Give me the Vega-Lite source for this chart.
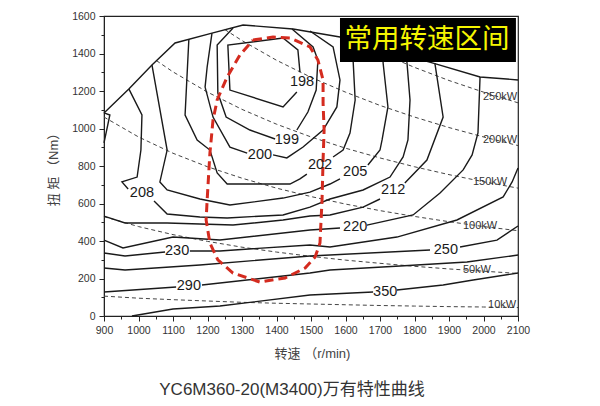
{
"$schema":"https://vega.github.io/schema/vega-lite/v6.json",
"width":414,"height":300,
"autosize":{"type":"none"},
"padding":{"left":104,"top":16,"right":82,"bottom":90},
"background":"white",
"config":{"view":{"stroke":"#222","strokeWidth":1.2},"axis":{"domainColor":"#222","tickColor":"#222","labelColor":"#333","labelFont":"Liberation Sans","labelFontSize":10.5,"grid":false,"labelFlush":false,"labelOverlap":false,"format":"d"}},
"title":{"text":"YC6M360-20(M3400)万有特性曲线","orient":"bottom","anchor":"middle","frame":"group","dx":-19,"offset":22,"font":"Liberation Sans, Noto Sans CJK SC","fontSize":17,"fontWeight":"normal","color":"#333"},
"datasets":{
"contours":[
{"s":"B","i":0,"rpm":900,"nm":1083},{"s":"B","i":1,"rpm":972,"nm":1211},{"s":"B","i":2,"rpm":1039,"nm":1339},{"s":"B","i":3,"rpm":1106,"nm":1456},{"s":"B","i":4,"rpm":1213,"nm":1509},{"s":"B","i":5,"rpm":1303,"nm":1552},{"s":"B","i":6,"rpm":1448,"nm":1531},{"s":"B","i":7,"rpm":1584,"nm":1488},{"s":"B","i":8,"rpm":1854,"nm":1349},{"s":"B","i":9,"rpm":1990,"nm":1275},{"s":"B","i":10,"rpm":2100,"nm":1259},
{"s":"198a","i":0,"rpm":1459,"nm":1195},{"s":"198a","i":1,"rpm":1419,"nm":1115},{"s":"198a","i":2,"rpm":1265,"nm":1205},{"s":"198a","i":3,"rpm":1259,"nm":1445},{"s":"198a","i":4,"rpm":1419,"nm":1483},{"s":"198a","i":5,"rpm":1462,"nm":1419},{"s":"198a","i":6,"rpm":1468,"nm":1301},
{"s":"199a","i":0,"rpm":1274,"nm":1536},{"s":"199a","i":1,"rpm":1228,"nm":1445},{"s":"199a","i":2,"rpm":1230,"nm":1189},{"s":"199a","i":3,"rpm":1254,"nm":1061},{"s":"199a","i":4,"rpm":1323,"nm":992},{"s":"199a","i":5,"rpm":1396,"nm":944},
{"s":"199b","i":0,"rpm":1459,"nm":992},{"s":"199b","i":1,"rpm":1491,"nm":1088},{"s":"199b","i":2,"rpm":1515,"nm":1205},{"s":"199b","i":3,"rpm":1520,"nm":1365},{"s":"199b","i":4,"rpm":1506,"nm":1435},{"s":"199b","i":5,"rpm":1445,"nm":1531},
{"s":"200a","i":0,"rpm":1213,"nm":1509},{"s":"200a","i":1,"rpm":1199,"nm":1328},{"s":"200a","i":2,"rpm":1193,"nm":1221},{"s":"200a","i":3,"rpm":1216,"nm":1061},{"s":"200a","i":4,"rpm":1265,"nm":901},{"s":"200a","i":5,"rpm":1315,"nm":869},
{"s":"200b","i":0,"rpm":1390,"nm":859},{"s":"200b","i":1,"rpm":1430,"nm":843},{"s":"200b","i":2,"rpm":1477,"nm":901},{"s":"200b","i":3,"rpm":1535,"nm":992},{"s":"200b","i":4,"rpm":1575,"nm":1115},{"s":"200b","i":5,"rpm":1584,"nm":1259},{"s":"200b","i":6,"rpm":1564,"nm":1435},{"s":"200b","i":7,"rpm":1497,"nm":1520},
{"s":"202a","i":0,"rpm":1146,"nm":1477},{"s":"202a","i":1,"rpm":1135,"nm":1072},{"s":"202a","i":2,"rpm":1170,"nm":939},{"s":"202a","i":3,"rpm":1207,"nm":885},{"s":"202a","i":4,"rpm":1228,"nm":763},{"s":"202a","i":5,"rpm":1257,"nm":704},{"s":"202a","i":6,"rpm":1439,"nm":704},{"s":"202a","i":7,"rpm":1468,"nm":731},{"s":"202a","i":8,"rpm":1488,"nm":757},
{"s":"202b","i":0,"rpm":1564,"nm":848},{"s":"202b","i":1,"rpm":1593,"nm":885},{"s":"202b","i":2,"rpm":1613,"nm":976},{"s":"202b","i":3,"rpm":1628,"nm":1152},{"s":"202b","i":4,"rpm":1622,"nm":1365},{"s":"202b","i":5,"rpm":1622,"nm":1467},
{"s":"205a","i":0,"rpm":1039,"nm":1339},{"s":"205a","i":1,"rpm":1083,"nm":885},{"s":"205a","i":2,"rpm":1062,"nm":715},{"s":"205a","i":3,"rpm":1083,"nm":672},{"s":"205a","i":4,"rpm":1178,"nm":624},{"s":"205a","i":5,"rpm":1265,"nm":592},{"s":"205a","i":6,"rpm":1419,"nm":629},{"s":"205a","i":7,"rpm":1497,"nm":661},{"s":"205a","i":8,"rpm":1555,"nm":704},{"s":"205a","i":9,"rpm":1584,"nm":731},
{"s":"205b","i":0,"rpm":1665,"nm":805},{"s":"205b","i":1,"rpm":1700,"nm":885},{"s":"205b","i":2,"rpm":1706,"nm":939},{"s":"205b","i":3,"rpm":1723,"nm":1115},{"s":"205b","i":4,"rpm":1709,"nm":1349},{"s":"205b","i":5,"rpm":1709,"nm":1424},
{"s":"208a","i":0,"rpm":972,"nm":1211},{"s":"208a","i":1,"rpm":1010,"nm":1072},{"s":"208a","i":2,"rpm":1007,"nm":885},{"s":"208a","i":3,"rpm":996,"nm":741},{"s":"208a","i":4,"rpm":952,"nm":715},{"s":"208a","i":5,"rpm":970,"nm":677},
{"s":"208b","i":0,"rpm":1045,"nm":613},{"s":"208b","i":1,"rpm":1083,"nm":544},{"s":"208b","i":2,"rpm":1178,"nm":528},{"s":"208b","i":3,"rpm":1257,"nm":523},{"s":"208b","i":4,"rpm":1419,"nm":539},{"s":"208b","i":5,"rpm":1497,"nm":581},{"s":"208b","i":6,"rpm":1555,"nm":624},{"s":"208b","i":7,"rpm":1651,"nm":672},{"s":"208b","i":8,"rpm":1729,"nm":741},{"s":"208b","i":9,"rpm":1767,"nm":848},{"s":"208b","i":10,"rpm":1781,"nm":939},{"s":"208b","i":11,"rpm":1787,"nm":1152},{"s":"208b","i":12,"rpm":1778,"nm":1355},{"s":"208b","i":13,"rpm":1775,"nm":1387},
{"s":"212a","i":0,"rpm":900,"nm":533},{"s":"212a","i":1,"rpm":961,"nm":496},{"s":"212a","i":2,"rpm":1083,"nm":496},{"s":"212a","i":3,"rpm":1178,"nm":491},{"s":"212a","i":4,"rpm":1274,"nm":485},{"s":"212a","i":5,"rpm":1419,"nm":512},{"s":"212a","i":6,"rpm":1497,"nm":533},{"s":"212a","i":7,"rpm":1555,"nm":539},{"s":"212a","i":8,"rpm":1651,"nm":581},{"s":"212a","i":9,"rpm":1700,"nm":624},
{"s":"212b","i":0,"rpm":1772,"nm":709},{"s":"212b","i":1,"rpm":1836,"nm":832},{"s":"212b","i":2,"rpm":1883,"nm":1061},{"s":"212b","i":3,"rpm":1859,"nm":1349},
{"s":"212c","i":0,"rpm":900,"nm":1083},{"s":"212c","i":1,"rpm":917,"nm":1072},{"s":"212c","i":2,"rpm":900,"nm":923},
{"s":"220a","i":0,"rpm":900,"nm":405},{"s":"220a","i":1,"rpm":955,"nm":363},{"s":"220a","i":2,"rpm":1100,"nm":421},{"s":"220a","i":3,"rpm":1236,"nm":405},{"s":"220a","i":4,"rpm":1497,"nm":459},{"s":"220a","i":5,"rpm":1584,"nm":469},
{"s":"220b","i":0,"rpm":1662,"nm":485},{"s":"220b","i":1,"rpm":1796,"nm":539},{"s":"220b","i":2,"rpm":1874,"nm":656},{"s":"220b","i":3,"rpm":1941,"nm":779},{"s":"220b","i":4,"rpm":1967,"nm":859},{"s":"220b","i":5,"rpm":1984,"nm":976},{"s":"220b","i":6,"rpm":1990,"nm":1275},
{"s":"230a","i":0,"rpm":900,"nm":336},{"s":"230a","i":1,"rpm":961,"nm":320},{"s":"230a","i":2,"rpm":1077,"nm":341},
{"s":"230b","i":0,"rpm":1149,"nm":347},{"s":"230b","i":1,"rpm":1236,"nm":347},{"s":"230b","i":2,"rpm":1497,"nm":379},{"s":"230b","i":3,"rpm":1555,"nm":368},{"s":"230b","i":4,"rpm":1749,"nm":421},{"s":"230b","i":5,"rpm":1923,"nm":512},{"s":"230b","i":6,"rpm":2057,"nm":635},{"s":"230b","i":7,"rpm":2083,"nm":715},{"s":"230b","i":8,"rpm":2100,"nm":789},
{"s":"250a","i":0,"rpm":900,"nm":256},{"s":"250a","i":1,"rpm":961,"nm":245},{"s":"250a","i":2,"rpm":1178,"nm":272},{"s":"250a","i":3,"rpm":1497,"nm":320},{"s":"250a","i":4,"rpm":1845,"nm":352},
{"s":"250b","i":0,"rpm":1932,"nm":368},{"s":"250b","i":1,"rpm":2039,"nm":405},{"s":"250b","i":2,"rpm":2100,"nm":480},
{"s":"290a","i":0,"rpm":900,"nm":128},{"s":"290a","i":1,"rpm":1109,"nm":155},
{"s":"290b","i":0,"rpm":1184,"nm":165},{"s":"290b","i":1,"rpm":1497,"nm":229},{"s":"290b","i":2,"rpm":1555,"nm":245},{"s":"290b","i":3,"rpm":1758,"nm":267},{"s":"290b","i":4,"rpm":1952,"nm":288},{"s":"290b","i":5,"rpm":2100,"nm":325},
{"s":"350a","i":0,"rpm":981,"nm":0},{"s":"350a","i":1,"rpm":1100,"nm":37},{"s":"350a","i":2,"rpm":1236,"nm":53},{"s":"350a","i":3,"rpm":1497,"nm":112},{"s":"350a","i":4,"rpm":1680,"nm":128},
{"s":"350b","i":0,"rpm":1749,"nm":139},{"s":"350b","i":1,"rpm":1883,"nm":165},{"s":"350b","i":2,"rpm":1970,"nm":192},{"s":"350b","i":3,"rpm":2100,"nm":229}
],
"power":[
{"p":10,"rpm":900,"nm":106},{"p":10,"rpm":1000,"nm":95},{"p":10,"rpm":1100,"nm":87},{"p":10,"rpm":1200,"nm":80},{"p":10,"rpm":1300,"nm":73},{"p":10,"rpm":1400,"nm":68},{"p":10,"rpm":1500,"nm":64},{"p":10,"rpm":1600,"nm":60},{"p":10,"rpm":1700,"nm":56},{"p":10,"rpm":1800,"nm":53},{"p":10,"rpm":1900,"nm":50},{"p":10,"rpm":2000,"nm":48},{"p":10,"rpm":2100,"nm":45},
{"p":50,"rpm":900,"nm":530},{"p":50,"rpm":1000,"nm":477},{"p":50,"rpm":1100,"nm":434},{"p":50,"rpm":1200,"nm":398},{"p":50,"rpm":1300,"nm":367},{"p":50,"rpm":1400,"nm":341},{"p":50,"rpm":1500,"nm":318},{"p":50,"rpm":1600,"nm":298},{"p":50,"rpm":1700,"nm":281},{"p":50,"rpm":1800,"nm":265},{"p":50,"rpm":1900,"nm":251},{"p":50,"rpm":2000,"nm":239},{"p":50,"rpm":2100,"nm":227},
{"p":100,"rpm":900,"nm":1061},{"p":100,"rpm":1000,"nm":955},{"p":100,"rpm":1100,"nm":868},{"p":100,"rpm":1200,"nm":796},{"p":100,"rpm":1300,"nm":735},{"p":100,"rpm":1400,"nm":682},{"p":100,"rpm":1500,"nm":637},{"p":100,"rpm":1600,"nm":597},{"p":100,"rpm":1700,"nm":562},{"p":100,"rpm":1800,"nm":531},{"p":100,"rpm":1900,"nm":503},{"p":100,"rpm":2000,"nm":477},{"p":100,"rpm":2100,"nm":455},
{"p":150,"rpm":1052,"nm":1362},{"p":150,"rpm":1100,"nm":1302},{"p":150,"rpm":1200,"nm":1194},{"p":150,"rpm":1300,"nm":1102},{"p":150,"rpm":1400,"nm":1023},{"p":150,"rpm":1500,"nm":955},{"p":150,"rpm":1600,"nm":895},{"p":150,"rpm":1700,"nm":843},{"p":150,"rpm":1800,"nm":796},{"p":150,"rpm":1900,"nm":754},{"p":150,"rpm":2000,"nm":716},{"p":150,"rpm":2100,"nm":682},
{"p":200,"rpm":1250,"nm":1528},{"p":200,"rpm":1300,"nm":1469},{"p":200,"rpm":1400,"nm":1364},{"p":200,"rpm":1500,"nm":1273},{"p":200,"rpm":1600,"nm":1194},{"p":200,"rpm":1700,"nm":1123},{"p":200,"rpm":1800,"nm":1061},{"p":200,"rpm":1900,"nm":1005},{"p":200,"rpm":2000,"nm":955},{"p":200,"rpm":2100,"nm":909},
{"p":250,"rpm":1635,"nm":1460},{"p":250,"rpm":1700,"nm":1404},{"p":250,"rpm":1800,"nm":1326},{"p":250,"rpm":1900,"nm":1256},{"p":250,"rpm":2000,"nm":1194},{"p":250,"rpm":2100,"nm":1137}
],
"zone":[
{"i":0,"rpm":1332,"nm":1472},{"i":1,"rpm":1390,"nm":1488},{"i":2,"rpm":1439,"nm":1483},{"i":3,"rpm":1497,"nm":1435},{"i":4,"rpm":1520,"nm":1365},{"i":5,"rpm":1535,"nm":1259},{"i":6,"rpm":1535,"nm":1136},{"i":7,"rpm":1538,"nm":992},{"i":8,"rpm":1535,"nm":832},{"i":9,"rpm":1532,"nm":619},{"i":10,"rpm":1526,"nm":389},{"i":11,"rpm":1512,"nm":315},{"i":12,"rpm":1483,"nm":256},{"i":13,"rpm":1425,"nm":203},{"i":14,"rpm":1352,"nm":181},{"i":15,"rpm":1274,"nm":229},{"i":16,"rpm":1230,"nm":299},{"i":17,"rpm":1207,"nm":389},{"i":18,"rpm":1196,"nm":512},{"i":19,"rpm":1199,"nm":619},{"i":20,"rpm":1207,"nm":869},{"i":21,"rpm":1216,"nm":1045},{"i":22,"rpm":1228,"nm":1152},{"i":23,"rpm":1257,"nm":1275},{"i":24,"rpm":1294,"nm":1392},{"i":25,"rpm":1332,"nm":1472}
],
"labels":[
{"t":"198","rpm":1474,"nm":1248},{"t":"199","rpm":1430,"nm":939},{"t":"200","rpm":1352,"nm":859},{"t":"202","rpm":1526,"nm":805},{"t":"205","rpm":1628,"nm":768},{"t":"208","rpm":1010,"nm":656},{"t":"212","rpm":1738,"nm":672},{"t":"220","rpm":1628,"nm":475},{"t":"230","rpm":1112,"nm":347},{"t":"250","rpm":1891,"nm":352},{"t":"290","rpm":1146,"nm":160},{"t":"350","rpm":1715,"nm":128}
],
"plabels":[
{"t":"250kW","rpm":2048,"nm":1168},{"t":"200kW","rpm":2048,"nm":939},{"t":"150kW","rpm":2019,"nm":715},{"t":"100kW","rpm":1990,"nm":480},{"t":"50kW","rpm":1981,"nm":245},{"t":"10kW","rpm":2054,"nm":59}
],
"box":[{"t":"常用转速区间","x1":1584,"x2":2094,"y1":1355,"y2":1589,"tx":1836,"ty":1472}]
},
"layer":[
{"data":{"name":"power"},"mark":{"type":"line","strokeDash":[4,3],"color":"#444","strokeWidth":1},
 "encoding":{
  "x":{"field":"rpm","type":"quantitative","scale":{"domain":[900,2100],"nice":false,"zero":false},"axis":{"orient":"bottom","values":[950,1050,1150,1250,1350,1450,1550,1650,1750,1850,1950,2050],"labels":false,"domain":false,"tickSize":3,"title":null}},
  "y":{"field":"nm","type":"quantitative","scale":{"domain":[0,1600],"nice":false,"zero":false},"axis":{"orient":"left","values":[100,300,500,700,900,1100,1300,1500],"labels":false,"domain":false,"tickSize":3,"title":null}},
  "detail":{"field":"p","type":"nominal"},
  "order":{"field":"rpm","type":"quantitative"}}},
{"data":{"name":"contours"},"mark":{"type":"line","color":"#1a1a1a","strokeWidth":1.4},
 "encoding":{
  "x":{"field":"rpm","type":"quantitative","axis":{"orient":"bottom","values":[900,1000,1100,1200,1300,1400,1500,1600,1700,1800,1900,2000,2100],"tickSize":5,"labelPadding":4,"title":"转速 （r/min)","titleFont":"Liberation Sans, Noto Sans CJK SC","titleFontSize":13,"titleFontWeight":"normal","titleColor":"#444","titleX":208,"titleY":37,"titleAlign":"center","titleBaseline":"middle"}},
  "y":{"field":"nm","type":"quantitative","axis":{"orient":"left","values":[0,200,400,600,800,1000,1200,1400,1600],"tickSize":5,"labelPadding":4,"title":"扭 矩 （Nm）","titleFont":"Liberation Sans, Noto Sans CJK SC","titleFontSize":13,"titleFontWeight":"normal","titleColor":"#444","titleAngle":270,"titleX":-51,"titleY":150,"titleAlign":"center","titleBaseline":"middle"}},
  "detail":{"field":"s","type":"nominal"},
  "order":{"field":"i","type":"quantitative"}}},
{"data":{"name":"zone"},"mark":{"type":"line","color":"#d42b1f","strokeWidth":3,"strokeDash":[9,5]},
 "encoding":{
  "x":{"field":"rpm","type":"quantitative","axis":null},
  "y":{"field":"nm","type":"quantitative","axis":null},
  "order":{"field":"i","type":"quantitative"}}},
{"data":{"name":"labels"},"mark":{"type":"text","font":"Liberation Sans","fontSize":14.5,"fill":"#1a1a1a","align":"center","baseline":"middle"},
 "encoding":{
  "x":{"field":"rpm","type":"quantitative","axis":null},
  "y":{"field":"nm","type":"quantitative","axis":null},
  "text":{"field":"t","type":"nominal"}}},
{"data":{"name":"plabels"},"mark":{"type":"text","font":"Liberation Sans","fontSize":11,"fill":"#333","align":"center","baseline":"middle"},
 "encoding":{
  "x":{"field":"rpm","type":"quantitative","axis":null},
  "y":{"field":"nm","type":"quantitative","axis":null},
  "text":{"field":"t","type":"nominal"}}},
{"data":{"name":"box"},"mark":{"type":"rect","fill":"#000"},
 "encoding":{
  "x":{"field":"x1","type":"quantitative","axis":null},"x2":{"field":"x2"},
  "y":{"field":"y1","type":"quantitative","axis":null},"y2":{"field":"y2"}}},
{"data":{"name":"box"},"mark":{"type":"text","font":"Noto Sans CJK SC","fontSize":27.5,"fill":"#f5f500","align":"center","baseline":"middle"},
 "encoding":{
  "x":{"field":"tx","type":"quantitative","axis":null},
  "y":{"field":"ty","type":"quantitative","axis":null},
  "text":{"field":"t","type":"nominal"}}}
],
"resolve":{"axis":{"x":"independent","y":"independent"}}
}
